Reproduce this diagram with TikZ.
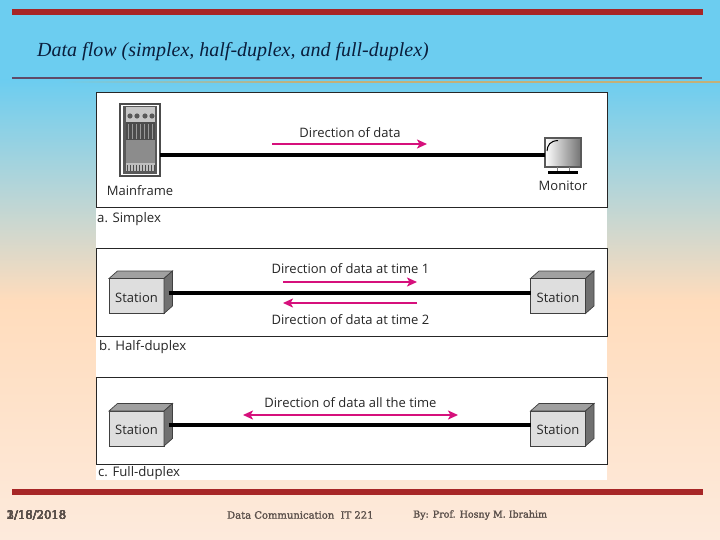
\documentclass[tikz,border=0pt]{standalone}
\usepackage{fontspec}
\setmainfont{Liberation Serif}
\newfontfamily\labelfont{Open Sans}
\newfontfamily\footfont[FakeBold=1.6]{DejaVu Serif}
\usetikzlibrary{arrows.meta,calc}
\definecolor{skyc}{HTML}{6CCDF0}
\definecolor{midc}{HTML}{B5D5D8}
\definecolor{peachc}{HTML}{FFDCBC}
\definecolor{lightc}{HTML}{FDEADC}
\definecolor{barred}{HTML}{A72626}
\definecolor{rulep}{HTML}{5F4A68}
\definecolor{goldc}{HTML}{C2B078}
\definecolor{pinkc}{HTML}{D6107C}
\definecolor{titlec}{HTML}{0A1E3C}
\definecolor{footc}{HTML}{5A4F4A}
\definecolor{frontc}{HTML}{DEDEDE}
\definecolor{topc}{HTML}{A0A0A0}
\definecolor{sidec}{HTML}{707070}
\tikzset{
  panel/.style={draw=black!85,line width=0.8pt,fill=white,anchor=north west,inner sep=0pt,outer sep=0pt},
  lbl/.style={font=\labelfont\fontsize{13}{15}\selectfont,text=black!85,inner sep=0pt},
  caplbl/.style={lbl,font=\labelfont\fontsize{13.2}{15}\selectfont,anchor=west},
  cable/.style={line width=3.8pt,black},
  flow/.style={line width=2pt,pinkc,-{Stealth[length=10pt,width=9pt,inset=2.5pt]}},
  flowtwo/.style={line width=2pt,pinkc,{Stealth[length=10pt,width=9pt,inset=2.5pt]}-{Stealth[length=10pt,width=9pt,inset=2.5pt]}},
  frontbox/.style={draw=black!75,line width=0.7pt,fill=frontc,minimum width=55pt,minimum height=35pt,inner sep=0pt,outer sep=0pt,text height=12.5pt,text depth=0pt,font=\labelfont\fontsize{13}{15}\selectfont,text=black!85},
  edge3d/.style={draw=black!75,line width=0.7pt},
  footer/.style={font=\footfont\fontsize{10}{12}\selectfont,text=footc,inner sep=0pt,anchor=west},
  datefoot/.style={footer,font=\footfont\fontsize{11.6}{13}\selectfont}
}
\newcommand{\stationdepth}[1]{%
  \path[edge3d,fill=topc] (#1.north west) -- ++(8.5,-7.5) -- ($(#1.north east)+(8.5,-7.5)$) -- (#1.north east) -- cycle;
  \path[edge3d,fill=sidec] (#1.north east) -- ++(8.5,-7.5) -- ($(#1.south east)+(8.5,-7.5)$) -- (#1.south east) -- cycle;
}
\begin{document}
\begin{tikzpicture}[x=1pt,y=-1pt]
\useasboundingbox (0,0) rectangle (720,540);
% background
\shade[top color=skyc,bottom color=skyc] (0,0) rectangle (720,80);
\shade[top color=skyc,bottom color=midc] (0,80) rectangle (720,190);
\shade[top color=midc,bottom color=peachc] (0,190) rectangle (720,300);
\shade[top color=peachc,bottom color=lightc] (0,300) rectangle (720,540);
% rules
\fill[barred] (12,9) rectangle (703,15);
\fill[rulep] (12,77) rectangle (702,79);
\shade[left color=skyc,right color=goldc] (60,81.5) rectangle (300,83);
\fill[goldc] (300,81.5) rectangle (720,83);
\fill[barred] (12,489) rectangle (703,495);
% title
\node[anchor=west,inner sep=0pt,text=titlec,font=\fontsize{20}{24}\selectfont\itshape] (title) at (37,52) {Data flow (simplex, half-duplex, and full-duplex)};
% white backing
\fill[white] (96,92) rectangle (607,480);
% panels
\node[panel,minimum width=511pt,minimum height=115pt] (pa) at (96,92) {};
\node[panel,minimum width=511pt,minimum height=88pt] (pb) at (96,248) {};
\node[panel,minimum width=511pt,minimum height=87pt] (pc) at (96,377) {};
\node[caplbl] (ca) at (97,219) {a. Simplex};
\node[caplbl] (cb) at (99,347) {b. Half-duplex};
\node[caplbl] (cc) at (98,473) {c. Full-duplex};
% mainframe
\node[draw=black!70,line width=1.2pt,fill=white,minimum width=40pt,minimum height=72pt,inner sep=0pt,outer sep=0pt] (mf) at (140,140) {};
\fill[black!65] (123,106) rectangle (157,174);
\fill[black!22] (125.5,107.5) rectangle (155,122);
\foreach \cx in {130,137,145,152} \fill[black!65] (\cx,116) circle (2.6pt);
\fill[black!70] (125.5,122) rectangle (155,140);
\foreach \lx in {128,132,...,154} \draw[black!40,line width=0.7pt] (\lx,124) -- (\lx,139);
\fill[black!45] (125.5,140) rectangle (155,163);
\fill[black!25] (125.5,163) rectangle (155,171);
\foreach \lx in {127,130,...,154} \draw[black!70,line width=0.7pt] (\lx,165) -- (\lx,171);
\node[lbl] (mfl) at (140,191) {Mainframe};
% monitor
\shade[left color=white,right color=black!55] (545,138) rectangle (581,167);
\node[draw=black!65,line width=2pt,minimum width=36pt,minimum height=29pt,inner sep=0pt,outer sep=0pt] (mon) at (563,152.5) {};
\draw[black,line width=1pt] (547,151) .. controls (547.5,145) and (550,141) .. (558,140.5);
\draw[black!50,line width=0.6pt] (557,167.5) -- (557,171) (569,167.5) -- (569,171);
\fill[black] (548,171) rectangle (578,174);
\node[lbl] (monl) at (563,186) {Monitor};
\draw[cable] (mf.east |- 0,155) -- (mon.west |- 0,155);
\node[lbl] (t1) at (350,132.5) {Direction of data};
\coordinate (a1s) at (272,144);
\coordinate (a1e) at (427,144);
\draw[flow] (a1s) -- (a1e);
% half duplex
\node[frontbox] (s1) at (136.5,296) {Station};
\stationdepth{s1}
\node[frontbox] (s2) at (558,296) {Station};
\stationdepth{s2}
\draw[cable] ($(s1.east |- 0,292.7)+(4.5,0)$) -- (s2.west |- 0,292.7);
\node[lbl] (t2) at (350.5,268.5) {Direction of data at time 1};
\node[lbl] (t3) at (350.5,319.5) {Direction of data at time 2};
\coordinate (b1s) at (283,282);
\coordinate (b1e) at (417,282);
\coordinate (b2s) at (417,303);
\coordinate (b2e) at (283,303);
\draw[flow] (b1s) -- (b1e);
\draw[flow] (b2s) -- (b2e);
% full duplex
\node[frontbox] (s3) at (136.5,428.5) {Station};
\stationdepth{s3}
\node[frontbox] (s4) at (558,428.5) {Station};
\stationdepth{s4}
\draw[cable] ($(s3.east |- 0,425)+(4.5,0)$) -- (s4.west |- 0,425);
\node[lbl] (t4) at (350.5,403) {Direction of data all the time};
\coordinate (c1s) at (243,415);
\coordinate (c1e) at (458,415);
\draw[flowtwo] (c1s) -- (c1e);
% footer
\node[datefoot] (d1) at (6.5,515) {1/18/2018};
\node[datefoot] (d2) at (6.5,515) {2/16/2018};
\node[datefoot] (d3) at (6.5,515) {3/18/2018};
\node[footer] (f1) at (227,515) {Data Communication\ \ IT 221};
\node[footer,font=\footfont\fontsize{9.5}{12}\selectfont] (f2) at (413,515) {By: Prof. Hosny M. Ibrahim};
\end{tikzpicture}
\end{document}
